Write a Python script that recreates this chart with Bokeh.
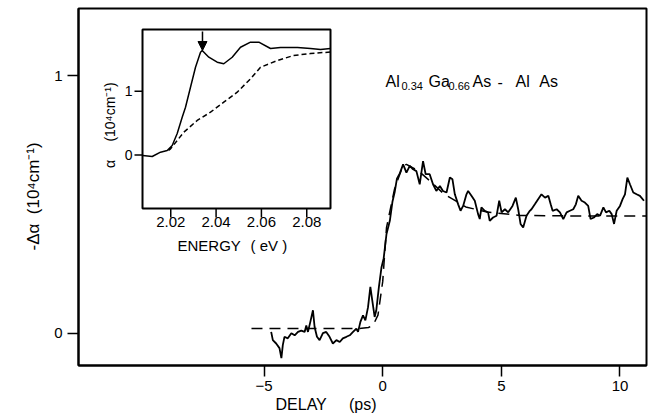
import math
from bokeh.plotting import figure
from bokeh.models import Range1d, FixedTicker, Title, Arrow, NormalHead
from bokeh.embed import file_html
from bokeh.resources import INLINE
from bokeh.core.properties import value

# ---------------- data ----------------
delay = [-4.70, -4.63, -4.49, -4.35, -4.27, -4.21, -4.14, -4.00, -3.85, -3.71,
         -3.57, -3.43, -3.29, -3.22, -3.15, -3.05, -2.94, -2.87, -2.77, -2.66,
         -2.52, -2.38, -2.24, -2.10, -1.95, -1.81, -1.68, -1.53, -1.39, -1.25,
         -1.11, -1.04, -0.94, -0.83, -0.73, -0.62, -0.52, -0.44, -0.34, -0.27,
         -0.16, -0.05, 0.04, 0.16, 0.30, 0.41, 0.51, 0.60, 0.72, 0.86,
         1.00, 1.14, 1.28, 1.42, 1.56, 1.63, 1.70, 1.81, 1.98, 2.12,
         2.26, 2.41, 2.54, 2.69, 2.83, 2.94, 3.04, 3.18, 3.28, 3.39,
         3.53, 3.60, 3.74, 3.88, 4.02, 4.09, 4.16, 4.30, 4.44, 4.51,
         4.65, 4.80, 4.91, 5.01, 5.15, 5.29, 5.47, 5.61, 5.71, 5.81,
         5.92, 6.06, 6.20, 6.27, 6.41, 6.55, 6.69, 6.84, 6.98, 7.08,
         7.16, 7.33, 7.47, 7.61, 7.75, 7.89, 8.03, 8.14, 8.24, 8.38,
         8.52, 8.66, 8.76, 8.90, 9.04, 9.16, 9.30, 9.41, 9.55, 9.65,
         9.75, 9.86, 10.00, 10.11, 10.21, 10.31, 10.42, 10.56, 10.70, 10.84, 11.01]
minus_dalpha = [0.005, -0.027, -0.040, -0.058, -0.097, -0.046, -0.014, -0.020, 0.000, -0.008,
                0.005, 0.010, 0.005, 0.030, 0.005, 0.044, 0.089, 0.024, -0.014, -0.027,
                0.000, 0.005, -0.014, -0.040, -0.027, -0.034, -0.020, -0.014, -0.008, 0.005,
                0.018, 0.005, 0.044, 0.069, 0.050, 0.100, 0.180, 0.127, 0.063, 0.089,
                0.180, 0.256, 0.290, 0.385, 0.436, 0.510, 0.550, 0.600, 0.620, 0.655,
                0.623, 0.649, 0.636, 0.629, 0.578, 0.623, 0.668, 0.617, 0.617, 0.578,
                0.552, 0.571, 0.552, 0.546, 0.604, 0.597, 0.539, 0.500, 0.475, 0.494,
                0.539, 0.552, 0.533, 0.514, 0.462, 0.443, 0.488, 0.475, 0.469, 0.436,
                0.449, 0.456, 0.514, 0.469, 0.481, 0.469, 0.494, 0.526, 0.481, 0.424,
                0.410, 0.456, 0.475, 0.481, 0.500, 0.520, 0.539, 0.526, 0.533, 0.500,
                0.475, 0.481, 0.469, 0.443, 0.469, 0.475, 0.481, 0.500, 0.533, 0.514,
                0.507, 0.494, 0.443, 0.449, 0.462, 0.456, 0.488, 0.469, 0.475, 0.462,
                0.424, 0.475, 0.494, 0.520, 0.539, 0.604, 0.578, 0.546, 0.539, 0.533, 0.514]

fit_delay = [-5.53, -1.0, -0.6, -0.4, -0.2, 0.0, 0.16, 0.5, 0.85, 1.0,
             1.5, 2.0, 2.57, 3.5, 4.4, 5.8, 8.0, 11.1]
fit_dalpha = [0.018, 0.018, 0.022, 0.032, 0.07, 0.20, 0.41, 0.56, 0.65, 0.655,
              0.63, 0.59, 0.541, 0.49, 0.47, 0.457, 0.455, 0.455]

energy = [2.0076, 2.01182, 2.01548, 2.01843, 2.02064, 2.02285, 2.02505, 2.02651,
          2.02871, 2.03092, 2.03313, 2.03388, 2.03679, 2.04049, 2.04340, 2.04711,
          2.05077, 2.05518, 2.05885, 2.06401, 2.06842, 2.07151, 2.07592, 2.08166,
          2.08607, 2.09048]
alpha_exc = [-0.008, -0.024, 0.044, 0.071, 0.149, 0.338, 0.593, 0.750,
             1.064, 1.378, 1.614, 1.640, 1.535, 1.457, 1.432, 1.535,
             1.692, 1.771, 1.771, 1.672, 1.688, 1.688, 1.688, 1.672,
             1.656, 1.672]

energy_ref = [2.01901, 2.01990, 2.02576, 2.03167, 2.03754, 2.04340, 2.04932,
              2.05518, 2.05960, 2.06710, 2.07416, 2.08166, 2.09048]
alpha_ref = [0.071, 0.097, 0.358, 0.542, 0.672, 0.829, 0.986,
             1.196, 1.378, 1.484, 1.562, 1.593, 1.617]

main_xticks = [-5, 0, 5, 10]
main_yticks = [0, 1]
inset_xticks = [2.02, 2.04, 2.06, 2.08]
inset_xlabels = ["2.02", "2.04", "2.06", "2.08"]
inset_yticks = [0, 1]
inset_ylabels = ["0", "1"]
arrow_energy = 2.0340

FONT = "Liberation Sans"
NB = "\u00a0"

# ---------------- main figure ----------------
p = figure(width=650, height=418, output_backend="svg", toolbar_location=None,
           title=None,
           x_range=Range1d(-12.82, 11.117), y_range=Range1d(-0.12534, 1.2600),
           min_border_left=78, min_border_right=4, min_border_top=8,
           min_border_bottom=53)
p.background_fill_color = "white"
p.border_fill_color = "white"
p.grid.visible = False
p.outline_line_color = "black"
p.outline_line_width = 2

p.xaxis.ticker = FixedTicker(ticks=main_xticks)
p.yaxis.ticker = FixedTicker(ticks=main_yticks)
for ax in (p.xaxis, p.yaxis):
    ax.axis_line_color = "black"
    ax.axis_line_width = 2
    ax.major_tick_in = 0
    ax.major_tick_out = 11
    ax.major_tick_line_width = 1.5
    ax.major_tick_line_color = "black"
    ax.minor_tick_line_color = None
    ax.major_label_text_font = FONT
    ax.major_label_text_font_size = "15px"
    ax.major_label_text_color = "black"
p.xaxis.major_label_standoff = 4
p.yaxis.major_label_standoff = 5

# axis titles
p.add_layout(Title(text="DELAY" + NB * 5 + "(ps)", align="left", offset=197,
                   standoff=0, text_font=FONT, text_font_size="16px",
                   text_font_style="normal", text_color="black"), "below")
p.add_layout(Title(text="-Δα" + NB * 2 + "(10⁴cm⁻¹)", align="left", offset=115,
                   standoff=18, text_font=FONT, text_font_size="17px",
                   text_font_style="normal", text_color="black"), "left")

# main data
p.line(fit_delay, fit_dalpha, line_color="black", line_width=1.5, line_dash="11 7")
p.line(delay, minus_dalpha, line_color="black", line_width=1.8)

# annotation Al0.34Ga0.66As - AlAs
big = dict(text_font=value(FONT), text_font_size="16px", text_color="black",
           text_align="left", text_baseline="alphabetic")
small = dict(text_font=value(FONT), text_font_size="11px", text_color="black",
             text_align="left", text_baseline="alphabetic")
p.text(x=[0.118, 1.930, 3.784, 4.838, 5.596, 6.60], y=[0.9767] * 6,
       text=["Al", "Ga", "As", "-", "Al", "As"], **big)
p.text(x=[0.792, 2.773], y=[0.961] * 2, text=["0.34", "0.66"], **small)

# ---------------- inset (own ranges) ----------------
p.extra_x_ranges = {"ix": Range1d(1.97930, 2.22989)}
p.extra_y_ranges = {"iy": Range1d(-3.3046, 2.2998)}
IX = dict(x_range_name="ix", y_range_name="iy")
ix_l, ix_r, iy_b, iy_t = 2.00754, 2.09048, -0.840, 1.970
dx_px = 1 / 2266.7
dy_px = 1 / 63.7

p.quad(left=[ix_l], right=[ix_r], bottom=[iy_b], top=[iy_t], fill_color="white",
       line_color="black", line_width=2, **IX)
p.segment(x0=inset_xticks, x1=inset_xticks, y0=[iy_b] * 4,
          y1=[iy_b - 9 * dy_px] * 4, line_color="black", line_width=1.5, **IX)
p.segment(x0=[ix_l] * 2, x1=[ix_l - 8 * dx_px] * 2, y0=inset_yticks,
          y1=inset_yticks, line_color="black", line_width=1.5, **IX)
p.text(x=inset_xticks, y=[iy_b - 8 * dy_px] * 4, text=inset_xlabels,
       text_font=value(FONT), text_font_size="15px", text_color="black",
       text_align="center", text_baseline="top", **IX)
p.text(x=[ix_l - 10 * dx_px] * 2, y=inset_yticks, text=inset_ylabels,
       text_font=value(FONT), text_font_size="14px", text_color="black",
       text_align="right", text_baseline="middle", **IX)
p.text(x=[2.02298, 2.05518], y=[-1.295] * 2, text=["ENERGY", "( eV )"],
       text_font=value(FONT), text_font_size="15px", text_color="black",
       text_align="left", text_baseline="top", **IX)
p.text(x=[1.99298, 1.99298], y=[-0.141, 0.675], text=["α", "(10⁴cm⁻¹)"],
       angle=math.pi / 2, text_font=value(FONT), text_font_size="14px",
       text_color="black", text_align="center", text_baseline="middle", **IX)

p.line(energy_ref, alpha_ref, line_color="black", line_width=1.5,
       line_dash="5 3", **IX)
p.line(energy, alpha_exc, line_color="black", line_width=1.5, **IX)

p.add_layout(Arrow(end=NormalHead(size=9, fill_color="black", line_color="black"),
                   x_start=arrow_energy, y_start=1.94, x_end=arrow_energy, y_end=1.64,
                   line_color="black", line_width=1.5, **IX))

open("out.html", "w").write(file_html(p, INLINE))
